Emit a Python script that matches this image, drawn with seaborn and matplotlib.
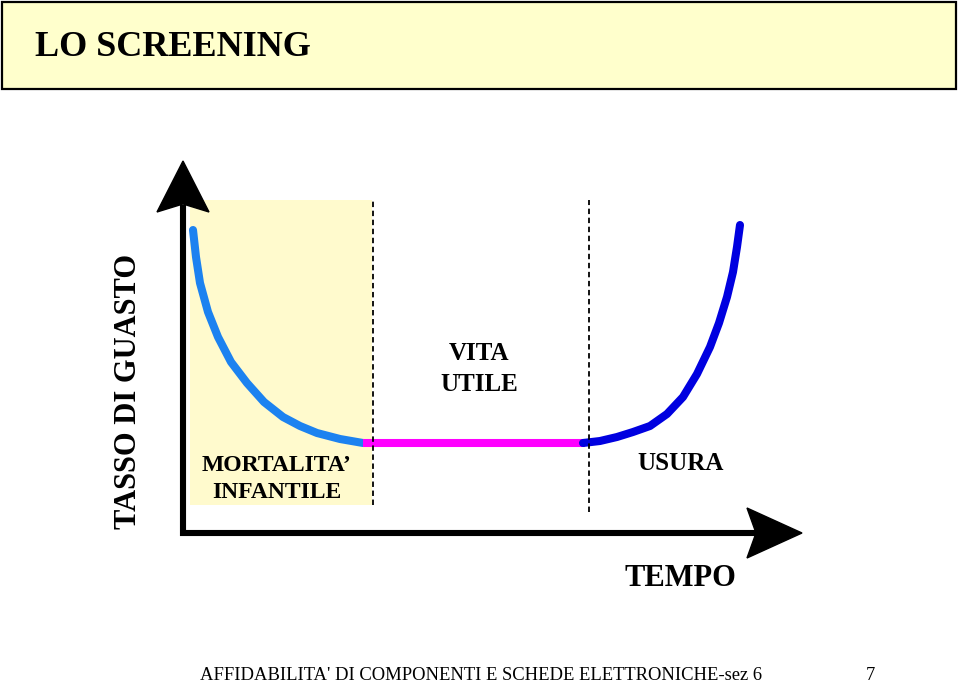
import matplotlib
matplotlib.use("Agg")
import matplotlib.pyplot as plt
from matplotlib.patches import Rectangle, Polygon
import seaborn as sns

sns.set_theme(style="white")
plt.rcParams["font.family"] = ["Liberation Serif", "DejaVu Serif"]
plt.rcParams["text.color"] = "black"

# bathtub curve: time vs failure rate, origin at the axis corner
infant_t = [10, 13, 17, 25, 35, 48, 64, 81, 100, 117, 134, 157, 180]
infant_r = [303, 276, 250, 221, 196, 171, 150, 131, 116, 107, 100, 94, 90]
useful_t = [180, 402]
useful_r = [90, 90]
wear_t = [400, 417, 434, 450, 467, 484, 500, 514, 527, 536, 544, 550, 554, 557]
wear_r = [90, 92, 96, 101, 107, 119, 136, 159, 186, 210, 236, 261, 286, 308]

# phase boundaries (dashed) on the time axis
bounds_t = [190, 406]

title = "LO SCREENING"
phase_labels = ["MORTALITA\u2019\nINFANTILE", "VITA\nUTILE", "USURA"]
x_label = "TEMPO"
y_label = "TASSO DI GUASTO"
footer = "AFFIDABILITA' DI COMPONENTI E SCHEDE ELETTRONICHE-sez 6"
page = "7"

LIGHT_BLUE = "#1c82f0"
MAGENTA = "#ff00ff"
BLUE = "#0000e0"


# slide pixel position -> data coords (origin at the axis corner)
def px(x, y):
    return x - 183, 533 - y


fig = plt.figure(figsize=(9.6, 6.87), dpi=100)
ax = fig.add_axes([0, 0, 1, 1])
ax.set_xlim(-183, 777)
ax.set_ylim(-154, 533)
ax.axis("off")

# title box
ax.add_patch(Rectangle(px(2, 89), 954, 87, facecolor="#ffffcc",
                       edgecolor="black", linewidth=1.6, zorder=1))
ax.text(*px(35, 47), title, fontsize=26, fontweight="bold",
        ha="left", va="center", zorder=2)

# shaded infant mortality band
ax.add_patch(Rectangle(px(190, 505), 182, 305, facecolor="#fffacd",
                       edgecolor="none", zorder=1))

# curves
sns.lineplot(x=infant_t, y=infant_r, ax=ax, color=LIGHT_BLUE, linewidth=5.8,
             sort=False, solid_capstyle="round", solid_joinstyle="round", zorder=3)
sns.lineplot(x=useful_t, y=useful_r, ax=ax, color=MAGENTA, linewidth=5.8,
             sort=False, solid_capstyle="butt", zorder=3)
sns.lineplot(x=wear_t, y=wear_r, ax=ax, color=BLUE, linewidth=5.8,
             sort=False, solid_capstyle="round", solid_joinstyle="round", zorder=3)

# dashed phase boundaries
ax.vlines(bounds_t[0], px(0, 505)[1], px(0, 200)[1], colors="black",
          linewidth=1.3, linestyles=(0, (3, 2)), zorder=4)
ax.vlines(bounds_t[1], px(0, 512)[1], px(0, 200)[1], colors="black",
          linewidth=1.3, linestyles=(0, (3, 2)), zorder=4)

# axes with arrow heads
ax.plot(*zip(px(183, 536), px(183, 205)), color="black", linewidth=4.4,
        solid_capstyle="butt", zorder=5)
ax.plot(*zip(px(180, 533), px(758, 533)), color="black", linewidth=4.4,
        solid_capstyle="butt", zorder=5)
ax.add_patch(Polygon([px(157, 212), px(183, 161), px(209, 212), px(183, 204)],
                     closed=True, facecolor="black", edgecolor="black", zorder=5))
ax.add_patch(Polygon([px(747, 508), px(802, 533), px(747, 558), px(756, 533)],
                     closed=True, facecolor="black", edgecolor="black", zorder=5))

# labels
ax.text(*px(277, 479), phase_labels[0], fontsize=17, fontweight="bold",
        ha="center", va="center", linespacing=1.38, zorder=6)
ax.text(*px(479, 369), phase_labels[1], fontsize=18, fontweight="bold",
        ha="center", va="center", linespacing=1.4, zorder=6)
ax.text(*px(681, 463), phase_labels[2], fontsize=18, fontweight="bold",
        ha="center", va="center", zorder=6)
ax.text(*px(680, 578), x_label, fontsize=22, fontweight="bold",
        ha="center", va="center", zorder=6)
ax.text(*px(128, 391), y_label, fontsize=22, fontweight="bold",
        ha="center", va="center", rotation=90, zorder=6)

# footer
ax.text(*px(200, 676), footer, fontsize=13.4, ha="left", va="center", zorder=6)
ax.text(*px(870, 676), page, fontsize=13.4, ha="center", va="center", zorder=6)

fig.savefig("out.png", dpi=100)
